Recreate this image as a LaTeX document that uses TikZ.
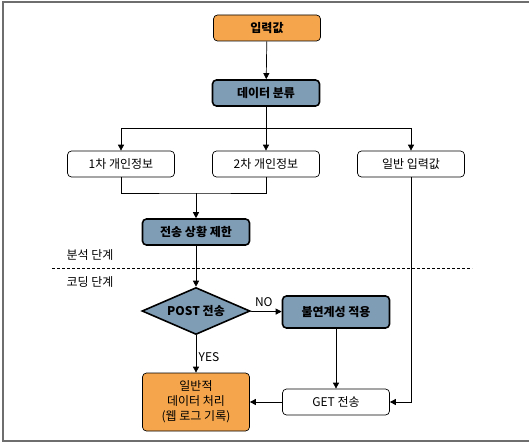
\documentclass[tikz,border=0pt]{standalone}
\usepackage{fontspec}
\setmainfont{Noto Sans CJK KR}
\usetikzlibrary{positioning,shapes.geometric,arrows.meta}
\definecolor{inorange}{HTML}{F5A54B}
\definecolor{stepblue}{HTML}{809DB6}
\definecolor{framegray}{HTML}{6E6E6E}
\begin{document}
\begin{tikzpicture}[x=1pt,y=-1pt,
    font=\fontsize{12}{14}\selectfont,
    box/.style={draw,rounded corners=4pt,minimum width=107pt,minimum height=26pt,inner sep=1pt,line width=0.7pt},
    orangebox/.style={box,fill=inorange,font=\fontsize{12}{14}\selectfont\bfseries},
    bluebox/.style={box,fill=stepblue,line width=1.6pt,font=\fontsize{12}{14}\selectfont\bfseries},
    plainbox/.style={box,fill=white},
    decision/.style={diamond,draw,fill=stepblue,line width=1.6pt,aspect=2.3,inner sep=0pt,minimum width=108pt,minimum height=47pt,font=\fontsize{12}{14}\selectfont\bfseries},
    arr/.style={-{Triangle[length=6pt,width=6pt]},line width=0.7pt},
    line/.style={line width=0.7pt}
  ]
  \useasboundingbox (0,0) rectangle (529,444);
  \draw[framegray,line width=2pt] (530,2) -- (3,2) -- (3,441) -- (530,441);

  \node[orangebox] (input) at (267,28) {입력값};
  \node[bluebox] (classify) at (266,93) {데이터 분류};
  \node[plainbox] (first) at (121,164) {1차 개인정보};
  \node[plainbox] (second) at (266,164) {2차 개인정보};
  \node[plainbox] (general) at (411,164) {일반 입력값};
  \node[bluebox] (limit) at (196,232) {전송 상황 제한};
  \node[decision] (post) at (196,311) {POST 전송};
  \node[bluebox,minimum height=32pt] (unlink) at (336,312) {불연계성 적용};
  \node[orangebox,minimum height=58pt,align=center,font=\fontsize{12}{15}\selectfont] (process) at (196,402) {일반적\\데이터 처리\\(웹 로그 기록)};
  \node[plainbox] (get) at (336,402) {GET 전송};

  \node (analysis) at (90,255) {분석 단계};
  \node (coding) at (90,282) {코딩 단계};
  \draw[line width=0.7pt,dash pattern=on 3pt off 2pt] (52,268) -- (472,268);

  \coordinate (split) at (266,128);
  \coordinate (merge) at (196,193);
  \draw[arr] (input) -- (classify);
  \draw[line] (classify) -- (split);
  \draw[arr] (split) -| (first);
  \draw[arr] (split) -- (second);
  \draw[arr] (split) -| (general);
  \draw[line] (first.south) |- (merge) -| (second.south);
  \draw[arr] (merge) -- (limit);
  \draw[arr] (limit) -- (post);
  \draw[arr] (post) -- node[above,xshift=-2pt,yshift=1pt] {NO} (unlink);
  \draw[arr] (post) -- node[right,xshift=-1pt,yshift=-3pt] {YES} (process);
  \draw[arr] (unlink) -- (get);
  \draw[arr] (general) |- (get);
  \draw[arr] (get) -- (process);
\end{tikzpicture}
\end{document}
